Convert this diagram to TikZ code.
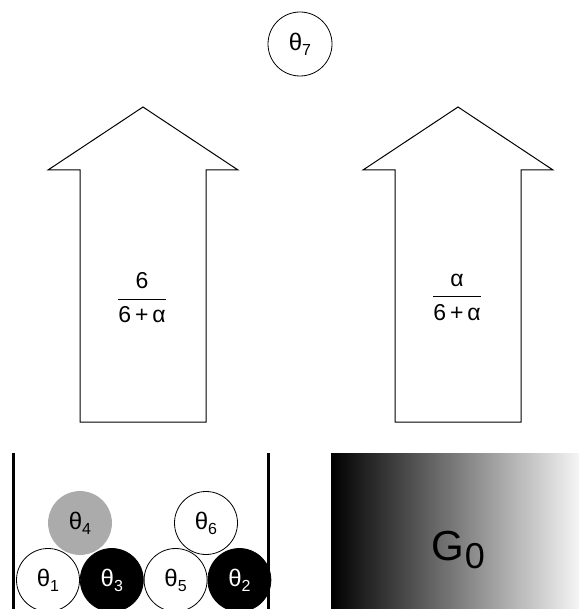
\documentclass[tikz,border=0pt]{standalone}
\usepackage{amsmath}
\usepackage{fontspec}
\setmainfont{Liberation Sans}
\usetikzlibrary{positioning}

\newcommand{\thlab}[1]{θ\raisebox{-5pt}{\fontsize{16}{16}\selectfont #1}}

\begin{document}
\begin{tikzpicture}[x=1pt,y=-1pt,font=\fontsize{24}{28}\selectfont,
 ball/.style={circle,draw,line width=0.8pt,minimum size=63pt,inner sep=0pt},
 upar/.style={draw,line width=1pt,line join=miter},
 frac/.style={font=\fontsize{23}{27}\selectfont},
 wall/.style={line width=3pt}]
 \useasboundingbox (0,0) rectangle (579,609);

 \node[ball,minimum size=64pt] (t7) at (300,44) {\thlab{7}};

 % the two up arrows
 \draw[upar] (80,422)--(80,170)--(48,170)--(143,107)--(238,170)--(206,170)--(206,422)--cycle;
 \draw[upar] (395,422)--(395,170)--(363,170)--(458,107)--(553,170)--(521,170)--(521,422)--cycle;
 \node[frac] (pl) at (142,298)
 {$\dfrac{\mbox{6\rule[-2pt]{0pt}{0pt}}}{\mbox{\rule{0pt}{19pt}6\thinspace+\thinspace α}}$};
 \node[frac] (pr) at (457,297)
 {$\dfrac{\mbox{α\rule[-2pt]{0pt}{0pt}}}{\mbox{\rule{0pt}{19pt}6\thinspace+\thinspace α}}$};

 % urn
 \draw[wall] (13,453)--(13,609);
 \draw[wall] (268,453)--(268,609);
 \node[ball] (t1) at (48,580) {\thlab{1}};
 \node[ball,fill=black,text=white,right=0pt of t1] (t3) {\thlab{3}};
 \node[ball,right=0pt of t3] (t5) {\thlab{5}};
 \node[ball,fill=black,text=white,right=0pt of t5] (t2) {\thlab{2}};
 \node[ball,draw=black!33,fill=black!33] (t4) at (80,523) {\thlab{4}};
 \node[ball] (t6) at (206,523) {\thlab{6}};

 % base measure
 \shade[left color=black,right color=white!96!black] (331,453) rectangle (579,609);
 \node (g0) at (458,550)
 {\fontsize{42}{42}\selectfont G\kern1pt\raisebox{-8pt}{\fontsize{36}{36}\selectfont 0}};
\end{tikzpicture}
\end{document}
